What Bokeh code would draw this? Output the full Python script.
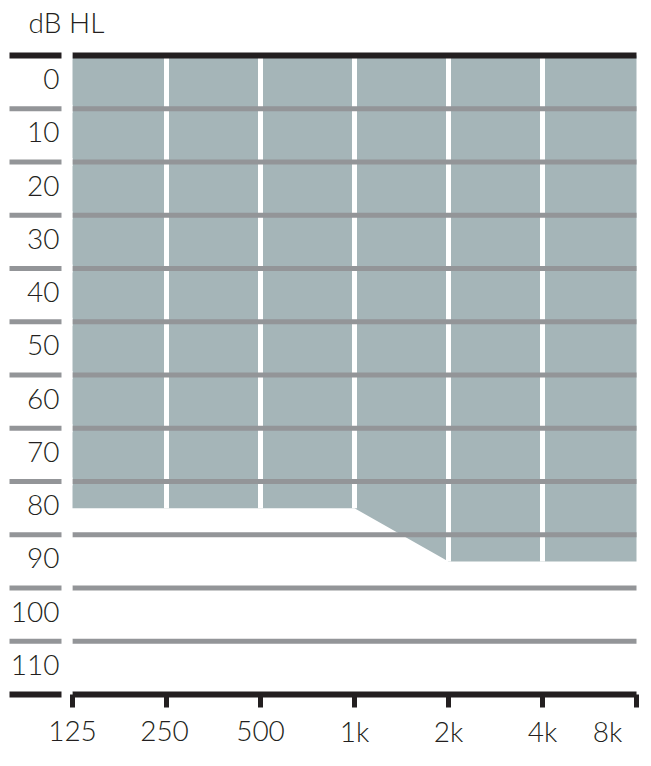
import math
from bokeh.plotting import figure
from bokeh.models import Range1d
from bokeh.core.properties import value
from bokeh.embed import file_html
from bokeh.resources import INLINE

# ---------------- data ----------------
FREQS = [125, 250, 500, 1000, 2000, 4000, 8000]
FREQ_LABELS = ["125", "250", "500", "1k", "2k", "4k", "8k"]
THRESHOLDS = [80, 80, 80, 80, 90, 90, 90]          # lower edge of shaded area (dB HL)
DB_TICKS = [0, 10, 20, 30, 40, 50, 60, 70, 80, 90, 100, 110]
DB_LABELS = [str(v) for v in DB_TICKS]
GRID_LEVELS = [-5, 5, 15, 25, 35, 45, 55, 65, 75, 85, 95, 105, 115]
AXIS_TITLE = "dB HL"

# ---------------- style / layout ----------------
FILL = "#a5b5b8"
GRID_GRAY = "#939598"
INK = "#231f20"
FONT = value("Lato Light, Open Sans")
FSIZE = value("28px")
W, H = 651, 766
PX_PER_DB = 5.325          # vertical scale
PX_PER_OCT = 94.0          # horizontal scale
LEFT_PX = 72               # screen x of the first frequency
TOP_PX = 55                # screen y of the top rule
Y_TOP = GRID_LEVELS[0] - TOP_PX / PX_PER_DB
Y_BOT = GRID_LEVELS[-1] + (H - TOP_PX - (GRID_LEVELS[-1] - GRID_LEVELS[0]) * PX_PER_DB) / PX_PER_DB
X_START = FREQS[0] * 2 ** (-LEFT_PX / PX_PER_OCT)
X_END = FREQS[0] * 2 ** ((W - LEFT_PX) / PX_PER_OCT)
TICK_LEN_DB = 13 / PX_PER_DB
X_LABEL_OFFSETS = [0, -2, 0, 0, 0, 0, -29]

p = figure(width=W, height=H, x_axis_type="log",
           x_range=Range1d(X_START, X_END), y_range=Range1d(Y_BOT, Y_TOP),
           x_axis_location=None, y_axis_location=None,
           toolbar_location=None, output_backend="svg", min_border=0)
p.outline_line_color = None
p.xgrid.visible = False
p.ygrid.visible = False
p.background_fill_color = "white"
p.border_fill_color = "white"

n = len(FREQS)
top, bot = GRID_LEVELS[0], GRID_LEVELS[-1]

# shaded area
p.varea(x=FREQS, y1=[top] * n, y2=THRESHOLDS, fill_color=FILL, fill_alpha=1)
# white separators at inner frequencies
p.segment(x0=FREQS[1:-1], x1=FREQS[1:-1], y0=[top] * (n - 2), y1=THRESHOLDS[1:-1],
          line_color="white", line_width=5)

# horizontal rules across the chart
colors = [INK if lv in (top, bot) else GRID_GRAY for lv in GRID_LEVELS]
widths = [6 if lv in (top, bot) else 5 for lv in GRID_LEVELS]
m = len(GRID_LEVELS)
p.segment(x0=[FREQS[0]] * m, x1=[FREQS[-1]] * m, y0=GRID_LEVELS, y1=GRID_LEVELS,
          line_color=colors, line_width=widths)

# left tick marks (rays pointing left), with a white gap next to the chart
p.ray(x=[FREQS[0]] * m, y=GRID_LEVELS, length=63, length_units="screen",
      angle=math.pi, line_color=colors, line_width=widths)
p.ray(x=[FREQS[0]] * m, y=GRID_LEVELS, length=11, length_units="screen",
      angle=math.pi, line_color="white", line_width=8)

# frequency tick marks
p.segment(x0=FREQS, x1=FREQS, y0=[bot] * n, y1=[bot + TICK_LEN_DB] * n,
          line_color=INK, line_width=5)

# frequency labels
p.text(x=FREQS, y=[bot] * n, text=FREQ_LABELS,
       x_offset=X_LABEL_OFFSETS, y_offset=36,
       text_align="center", text_baseline="middle",
       text_font=FONT, text_font_size=FSIZE, text_color=INK)

# dB labels
p.text(x=[FREQS[0]] * len(DB_TICKS), y=DB_TICKS, text=DB_LABELS,
       x_offset=-13, y_offset=-3,
       text_align="right", text_baseline="middle",
       text_font=FONT, text_font_size=FSIZE, text_color=INK)

# axis title
p.text(x=[FREQS[0]], y=[top], text=[AXIS_TITLE], x_offset=-44, y_offset=-34,
       text_align="left", text_baseline="middle",
       text_font=FONT, text_font_size=FSIZE, text_color=INK)

open("out.html", "w").write(file_html(p, INLINE))
